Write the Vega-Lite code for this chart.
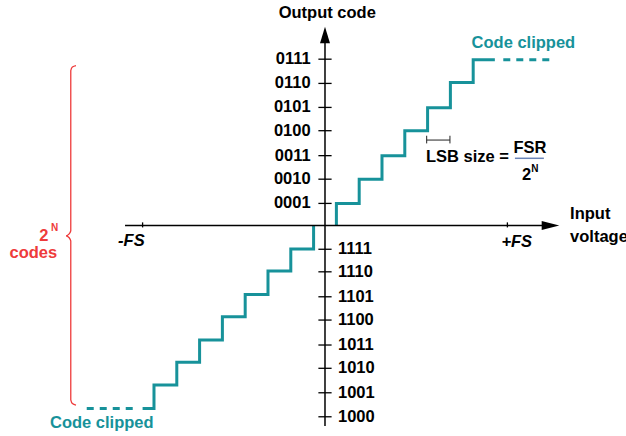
{
  "$schema": "https://vega.github.io/schema/vega-lite/v6.json",
  "width": 626,
  "height": 436,
  "autosize": {"type": "none"},
  "padding": 0,
  "background": "white",
  "config": {
    "view": {"stroke": null},
    "text": {"font": "Liberation Sans", "fontWeight": "bold", "baseline": "middle"}
  },
  "datasets": {
    "steps": [
      {"side": "neg", "x": -8, "y": -7.62}, {"side": "neg", "x": -7.5, "y": -6.65}, {"side": "neg", "x": -6.5, "y": -5.7},
      {"side": "neg", "x": -5.5, "y": -4.77}, {"side": "neg", "x": -4.5, "y": -3.8}, {"side": "neg", "x": -3.5, "y": -2.87},
      {"side": "neg", "x": -2.5, "y": -1.9}, {"side": "neg", "x": -1.5, "y": -0.98}, {"side": "neg", "x": -0.5, "y": 0},
      {"side": "pos", "x": 0.5, "y": 0}, {"side": "pos", "x": 0.5, "y": 0.92}, {"side": "pos", "x": 1.5, "y": 1.93},
      {"side": "pos", "x": 2.5, "y": 2.91}, {"side": "pos", "x": 3.5, "y": 3.95}, {"side": "pos", "x": 4.5, "y": 4.91},
      {"side": "pos", "x": 5.5, "y": 5.96}, {"side": "pos", "x": 6.5, "y": 6.91}, {"side": "pos", "x": 7.45, "y": 6.91}
    ],
    "clipDash": [
      {"seg": "top", "x": 7.82, "y": 6.91}, {"seg": "top", "x": 9.84, "y": 6.91},
      {"seg": "bottom", "x": -10.45, "y": -7.62}, {"seg": "bottom", "x": -8.42, "y": -7.62}
    ],
    "axes": [
      {"x": -8.77, "y": 0, "x2": 9.7, "y2": 0},
      {"x": 0, "y": -8.35, "x2": 0, "y2": 7.8}
    ],
    "ticks": [
      {"x": -0.29, "x2": 0.29, "y": 6.93, "y2": 6.93},
      {"x": -0.29, "x2": 0.29, "y": 5.92, "y2": 5.92},
      {"x": -0.29, "x2": 0.29, "y": 4.92, "y2": 4.92},
      {"x": -0.29, "x2": 0.29, "y": 3.95, "y2": 3.95},
      {"x": -0.29, "x2": 0.29, "y": 2.91, "y2": 2.91},
      {"x": -0.29, "x2": 0.29, "y": 1.93, "y2": 1.93},
      {"x": -0.29, "x2": 0.29, "y": 0.92, "y2": 0.92},
      {"x": -0.29, "x2": 0.29, "y": -0.99, "y2": -0.99},
      {"x": -0.29, "x2": 0.29, "y": -1.93, "y2": -1.93},
      {"x": -0.29, "x2": 0.29, "y": -2.97, "y2": -2.97},
      {"x": -0.29, "x2": 0.29, "y": -3.94, "y2": -3.94},
      {"x": -0.29, "x2": 0.29, "y": -4.98, "y2": -4.98},
      {"x": -0.29, "x2": 0.29, "y": -5.95, "y2": -5.95},
      {"x": -0.29, "x2": 0.29, "y": -6.97, "y2": -6.97},
      {"x": -0.29, "x2": 0.29, "y": -7.97, "y2": -7.97},
      {"x": -8, "x2": -8, "y": 0.13, "y2": -0.08},
      {"x": 8, "x2": 8, "y": 0.13, "y2": -0.08}
    ],
    "lsbBracket": [
      {"x": 4.46, "x2": 5.48, "y": 3.56, "y2": 3.56},
      {"x": 4.46, "x2": 4.46, "y": 3.74, "y2": 3.42},
      {"x": 5.48, "x2": 5.48, "y": 3.74, "y2": 3.42}
    ],
    "fracLine": [{"x": 8.33, "x2": 9.6, "y": 2.8, "y2": 2.8}],
    "arrows": [
      {"dir": "up", "x": 0, "y": 7.94},
      {"dir": "right", "x": 9.89, "y": 0}
    ],
    "brace": [
      {"i": 1, "x": -10.92, "y": 6.66},
      {"i": 2, "x": -11.08, "y": 6.6},
      {"i": 3, "x": -11.15, "y": 6.45},
      {"i": 4, "x": -11.15, "y": -0.22},
      {"i": 5, "x": -11.22, "y": -0.35},
      {"i": 6, "x": -11.36, "y": -0.43},
      {"i": 7, "x": -11.22, "y": -0.51},
      {"i": 8, "x": -11.15, "y": -0.64},
      {"i": 9, "x": -11.15, "y": -7.27},
      {"i": 10, "x": -11.08, "y": -7.42},
      {"i": 11, "x": -10.92, "y": -7.48}
    ],
    "labelsPos": [
      {"x": -0.63, "y": 6.93, "label": "0111"},
      {"x": -0.63, "y": 5.92, "label": "0110"},
      {"x": -0.63, "y": 4.92, "label": "0101"},
      {"x": -0.63, "y": 3.95, "label": "0100"},
      {"x": -0.63, "y": 2.91, "label": "0011"},
      {"x": -0.63, "y": 1.93, "label": "0010"},
      {"x": -0.63, "y": 0.92, "label": "0001"}
    ],
    "labelsNeg": [
      {"x": 0.57, "y": -0.99, "label": "1111"},
      {"x": 0.57, "y": -1.93, "label": "1110"},
      {"x": 0.57, "y": -2.97, "label": "1101"},
      {"x": 0.57, "y": -3.94, "label": "1100"},
      {"x": 0.57, "y": -4.98, "label": "1011"},
      {"x": 0.57, "y": -5.95, "label": "1010"},
      {"x": 0.57, "y": -6.97, "label": "1001"},
      {"x": 0.57, "y": -7.97, "label": "1000"}
    ],
    "blackCenter": [
      {"x": 0.1, "y": 8.84, "label": "Output code"},
      {"x": 8.99, "y": 3.24, "label": "FSR"},
      {"x": 8.84, "y": 2.1, "label": "2"}
    ],
    "blackLeft": [
      {"x": 4.43, "y": 2.87, "label": "LSB size ="},
      {"x": 10.75, "y": 0.48, "label": "Input"},
      {"x": 10.75, "y": -0.48, "label": "voltage"}
    ],
    "fsLabels": [
      {"x": -8.49, "y": -0.63, "label": "-FS"},
      {"x": 8.41, "y": -0.67, "label": "+FS"}
    ],
    "supBlack": [{"x": 9.21, "y": 2.35, "label": "N"}],
    "tealText": [
      {"x": 6.43, "y": 7.59, "label": "Code clipped"},
      {"x": -12.06, "y": -8.24, "label": "Code clipped"}
    ],
    "redText": [
      {"x": -12.33, "y": -0.44, "label": "2"},
      {"x": -12.79, "y": -1.15, "label": "codes"}
    ],
    "redSup": [{"x": -11.86, "y": -0.09, "label": "N"}]
  },
  "encoding": {
    "x": {"field": "x", "type": "quantitative", "scale": {"domain": [-14.254, 13.202], "nice": false, "zero": false}, "axis": null},
    "y": {"field": "y", "type": "quantitative", "scale": {"domain": [-8.771, 9.396], "nice": false, "zero": false}, "axis": null}
  },
  "layer": [
    {
      "data": {"name": "steps"},
      "mark": {"type": "line", "interpolate": "step-after", "color": "#17929a", "strokeWidth": 3, "strokeJoin": "miter"},
      "encoding": {"detail": {"field": "side"}}
    },
    {
      "data": {"name": "clipDash"},
      "mark": {"type": "line", "color": "#17929a", "strokeWidth": 3, "strokeDash": [7, 6]},
      "encoding": {"detail": {"field": "seg"}}
    },
    {
      "data": {"name": "axes"},
      "mark": {"type": "rule", "color": "#000000", "strokeWidth": 1.5},
      "encoding": {"x2": {"field": "x2"}, "y2": {"field": "y2"}}
    },
    {
      "data": {"name": "ticks"},
      "mark": {"type": "rule", "color": "#000000", "strokeWidth": 1.3},
      "encoding": {"x2": {"field": "x2"}, "y2": {"field": "y2"}}
    },
    {
      "data": {"name": "lsbBracket"},
      "mark": {"type": "rule", "color": "#222222", "strokeWidth": 1},
      "encoding": {"x2": {"field": "x2"}, "y2": {"field": "y2"}}
    },
    {
      "data": {"name": "fracLine"},
      "mark": {"type": "rule", "color": "#6a84b8", "strokeWidth": 1.5},
      "encoding": {"x2": {"field": "x2"}, "y2": {"field": "y2"}}
    },
    {
      "data": {"name": "arrows"},
      "transform": [{"filter": "datum.dir === 'up'"}],
      "mark": {"type": "point", "shape": "M0,-1L0.6,1L-0.6,1Z", "size": 276, "filled": true, "color": "#000000", "opacity": 1},
      "encoding": {}
    },
    {
      "data": {"name": "arrows"},
      "transform": [{"filter": "datum.dir === 'right'"}],
      "mark": {"type": "point", "shape": "M1,0L-1,-0.5L-1,0.5Z", "size": 310, "filled": true, "color": "#000000", "opacity": 1},
      "encoding": {}
    },
    {
      "data": {"name": "brace"},
      "mark": {"type": "line", "color": "#ee3b3b", "strokeWidth": 1.3, "interpolate": "monotone"},
      "encoding": {"order": {"field": "i", "type": "quantitative"}}
    },
    {
      "data": {"name": "labelsPos"},
      "mark": {"type": "text", "align": "right", "fontSize": 16.5, "color": "#000000"},
      "encoding": {"text": {"field": "label"}}
    },
    {
      "data": {"name": "labelsNeg"},
      "mark": {"type": "text", "align": "left", "fontSize": 16.5, "color": "#000000"},
      "encoding": {"text": {"field": "label"}}
    },
    {
      "data": {"name": "blackCenter"},
      "mark": {"type": "text", "align": "center", "fontSize": 16.5, "color": "#000000"},
      "encoding": {"text": {"field": "label"}}
    },
    {
      "data": {"name": "blackLeft"},
      "mark": {"type": "text", "align": "left", "fontSize": 16.5, "color": "#000000"},
      "encoding": {"text": {"field": "label"}}
    },
    {
      "data": {"name": "fsLabels"},
      "mark": {"type": "text", "align": "center", "fontSize": 16.5, "fontStyle": "italic", "color": "#000000"},
      "encoding": {"text": {"field": "label"}}
    },
    {
      "data": {"name": "supBlack"},
      "mark": {"type": "text", "align": "center", "fontSize": 10, "color": "#000000"},
      "encoding": {"text": {"field": "label"}}
    },
    {
      "data": {"name": "tealText"},
      "mark": {"type": "text", "align": "left", "fontSize": 16.5, "color": "#17929a"},
      "encoding": {"text": {"field": "label"}}
    },
    {
      "data": {"name": "redText"},
      "mark": {"type": "text", "align": "center", "fontSize": 16.5, "color": "#ee3b3b"},
      "encoding": {"text": {"field": "label"}}
    },
    {
      "data": {"name": "redSup"},
      "mark": {"type": "text", "align": "center", "fontSize": 10, "color": "#ee3b3b"},
      "encoding": {"text": {"field": "label"}}
    }
  ]
}
